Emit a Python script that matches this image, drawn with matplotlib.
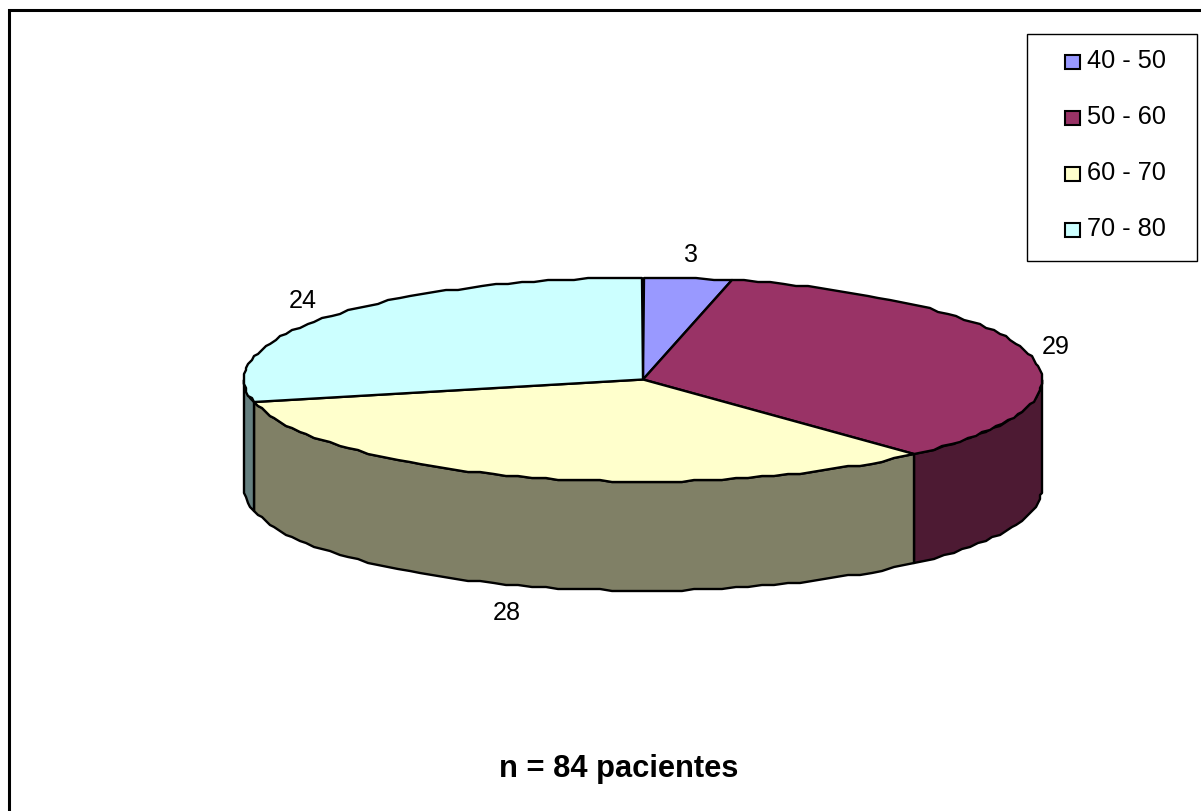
import numpy as np
import matplotlib
matplotlib.use("Agg")
import matplotlib.pyplot as plt
from matplotlib.patches import Rectangle, Polygon

plt.rcParams["font.family"] = ["Liberation Sans", "DejaVu Sans"]

age_groups = ["40 - 50", "50 - 60", "60 - 70", "70 - 80"]
patients = [3, 29, 28, 24]
top_colors = ["#9999FF", "#993366", "#FFFFCC", "#CCFFFF"]
side_colors = ["#4D4D80", "#4D1A33", "#808066", "#668080"]
footer = "n = 84 pacientes"

W, H = 1201, 811
CX, CY, RX, RY, DEPTH = 643.0, 379.5, 399.0, 102.0, 109.0
EDGE = 1.7
GRID = 2.0  # rim vertices sit on a coarse device grid, which makes the outline slightly uneven

fig = plt.figure(figsize=(W / 100, H / 100), dpi=100, facecolor="white")
ax = fig.add_axes([0, 0, 1, 1])
ax.set_xlim(0, W)
ax.set_ylim(H, 0)
ax.axis("off")


def rim(t0, t1, n=30):
    # Points along the elliptical rim, angles clockwise from twelve o'clock.
    t = np.linspace(t0, t1, max(int(n * (t1 - t0)), 2))
    x = np.round((CX + RX * np.sin(t)) / GRID) * GRID
    y = np.round((CY - RY * np.cos(t)) / GRID) * GRID
    return x, y


# Chart frame: heavy rule along the top and left sides only.
ax.plot([9, 9, W], [H, 10, 10], color="black", lw=2.2, solid_joinstyle="miter")

fractions = np.array(patients, dtype=float) / sum(patients)
bounds = np.concatenate([[0.0], np.cumsum(fractions)]) * 2 * np.pi

# Side wall: only the arc that faces the viewer (pi/2 to 3*pi/2) is visible.
for i in range(len(patients)):
    t0 = max(bounds[i], np.pi / 2)
    t1 = min(bounds[i + 1], 3 * np.pi / 2)
    if t1 <= t0:
        continue
    x, y = rim(t0, t1)
    xs = np.concatenate([x, x[::-1]])
    ys = np.concatenate([y, y[::-1] + DEPTH])
    ax.add_patch(Polygon(np.c_[xs, ys], closed=True, fc=side_colors[i], ec="black",
                         lw=EDGE, joinstyle="round"))

# Top face
for i in range(len(patients)):
    x, y = rim(bounds[i], bounds[i + 1])
    xs = np.concatenate([[CX], x])
    ys = np.concatenate([[CY], y])
    ax.add_patch(Polygon(np.c_[xs, ys], closed=True, fc=top_colors[i], ec="black",
                         lw=EDGE, joinstyle="round"))

# Value labels
label_xy = [(690, 254.5), (1056, 347.5), (507, 612.5), (302.5, 301.5)]
for v, (lx, ly) in zip(patients, label_xy):
    ax.text(lx, ly, str(v), ha="center", va="center", fontsize=14.6 * 1.24, color="black")

# Legend
ax.add_patch(Rectangle((1026.5, 33.5), 170, 227, fc="white", ec="black", lw=1.0))
legend_y = [62, 118, 174, 230]
for name, color, ly in zip(age_groups, top_colors, legend_y):
    ax.add_patch(Rectangle((1065, ly - 7), 15, 14, fc=color, ec="black", lw=1.5))
    ax.text(1087, ly - 1, name, ha="left", va="center", fontsize=14.6 * 1.25, color="black")

ax.text(619, 769, footer, ha="center", va="center", fontsize=22.2, fontweight="bold", color="black")

fig.savefig("out.png", dpi=100, facecolor="white")
